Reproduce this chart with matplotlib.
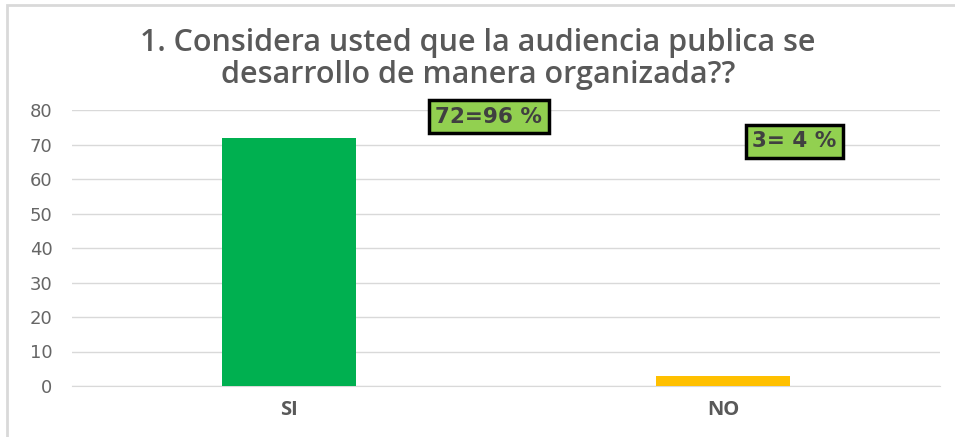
import matplotlib
matplotlib.use("Agg")
import matplotlib.pyplot as plt
from matplotlib.patches import Rectangle

categories = ["SI", "NO"]
values = [72, 3]
bar_colors = ["#00B050", "#FFC000"]
labels = ["72=96 %", "3= 4 %"]
label_pos = [(0.46, 78), (1.164, 71)]
yticks = [0, 10, 20, 30, 40, 50, 60, 70, 80]
title = "1. Considera usted que la audiencia publica se\ndesarrollo de manera organizada??"

W, H = 955, 437
fig = plt.figure(figsize=(W / 100, H / 100), dpi=100)
ax = fig.add_axes([72 / W, (H - 386) / H, (940 - 72) / W, 276 / H])

x = list(range(len(categories)))
ax.bar(x, values, width=0.31, color=bar_colors, zorder=3)
ax.set_xlim(-0.5, 1.5)
ax.set_ylim(0, 80)
ax.set_yticks(yticks)
ax.set_yticklabels([str(t) for t in yticks], fontsize=13, color="#666666", family="DejaVu Sans")
ax.set_xticks(x)
ax.set_xticklabels(categories, fontsize=14.5, fontweight="bold", color="#595959", family="Open Sans")
ax.tick_params(axis="both", length=0)
ax.tick_params(axis="y", pad=14)
ax.tick_params(axis="x", pad=10)
ax.grid(axis="y", color="#d9d9d9", linewidth=1, zorder=0)
for s in ["top", "right", "left"]:
    ax.spines[s].set_visible(False)
ax.spines["bottom"].set_color("#d9d9d9")

for (lx, ly), t in zip(label_pos, labels):
    ax.text(lx, ly, t, ha="center", va="center", fontsize=15.5, fontweight="bold",
            color="#404040", family="DejaVu Sans", zorder=5,
            bbox=dict(boxstyle="square,pad=0.3", facecolor="#92D050", edgecolor="black", linewidth=2.5))

fig.text(478 / W, 1 - 59 / H, title, ha="center", va="center", fontsize=22,
         color="#595959", family="Open Sans", fontweight="semibold", linespacing=1.1)

fig.patches.append(Rectangle((7 / W, -0.1), 1.2, 1 - 5 / H + 0.1, transform=fig.transFigure,
                             fill=False, edgecolor="#d9d9d9", linewidth=2))

fig.savefig("out.png", dpi=100)
